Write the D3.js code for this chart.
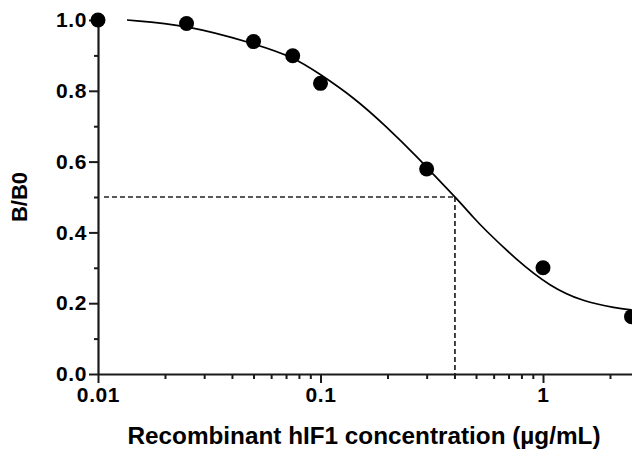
<!DOCTYPE html>
<html>
<head>
<meta charset="utf-8">
<script src="https://cdn.jsdelivr.net/npm/d3@7"></script>
<style>
  body { margin: 0; background: #fff; }
  svg { display: block; font-family: "Liberation Sans", Arial, Helvetica, sans-serif; font-weight: bold; }
</style>
</head>
<body>
<div id="chart"></div>
<script>
// measured points (B/B0 vs concentration)
const pointX = [0.01, 0.025, 0.05, 0.075, 0.1, 0.3, 1, 2.5];
const pointY = [1.0, 0.99, 0.939, 0.899, 0.821, 0.579, 0.300, 0.162];

// fitted curve
const curveX = [0.0135, 0.025, 0.05, 0.0755, 0.0995, 0.14, 0.198, 0.28, 0.32, 0.402, 0.495, 0.54, 0.76, 1.075, 1.52, 2.14, 2.5];
const curveY = [1.0, 0.986, 0.934, 0.896, 0.847, 0.783, 0.699, 0.605, 0.565, 0.501, 0.437, 0.412, 0.322, 0.247, 0.204, 0.186, 0.181];

// IC50 guide
const ic50 = 0.402;
const halfLevel = 0.5;

const xMajor = [0.01, 0.1, 1];
const xMajorLabels = ["0.01", "0.1", "1"];
const yMajor = [0, 0.2, 0.4, 0.6, 0.8, 1.0];
const yMinor = [0.1, 0.3, 0.5, 0.7, 0.9];

const width = 632, height = 450;
const plotLeft = 98, plotBottom = 374, plotTop = 20;
const decade = 222.5;

const svg = d3.select("#chart").append("svg")
    .attr("width", width)
    .attr("height", height);

const x = d3.scaleLog()
    .domain([0.01, 2.55])
    .range([plotLeft, plotLeft + decade * Math.log10(255)]);

const y = d3.scaleLinear()
    .domain([0, 1])
    .range([plotBottom, plotTop]);

// x axis: major + minor ticks
const xMinor = x.ticks().filter(v => !xMajor.some(m => Math.abs(m - v) < 1e-9));

svg.append("g")
    .attr("transform", `translate(0,${plotBottom})`)
    .call(d3.axisBottom(x).tickValues(xMinor).tickSize(5).tickFormat(""))
    .call(g => g.select(".domain").remove());

svg.append("g")
    .attr("transform", `translate(0,${plotBottom})`)
    .call(d3.axisBottom(x)
        .tickValues(xMajor)
        .tickSize(9)
        .tickSizeOuter(0)
        .tickPadding(4)
        .tickFormat((d, i) => xMajorLabels[i]));

// y axis
svg.append("g")
    .attr("transform", `translate(${plotLeft},0)`)
    .call(d3.axisLeft(y).tickValues(yMinor).tickSize(4).tickFormat(""))
    .call(g => g.select(".domain").remove());

svg.append("g")
    .attr("transform", `translate(${plotLeft},0)`)
    .call(d3.axisLeft(y)
        .tickValues(yMajor)
        .tickSize(9)
        .tickSizeOuter(0)
        .tickPadding(2)
        .tickFormat(d3.format(".1f")));

svg.selectAll(".domain").attr("stroke", "#1a1a1a").attr("stroke-width", 2.2);
svg.selectAll(".tick line").attr("stroke", "#1a1a1a").attr("stroke-width", 2);
svg.selectAll(".tick text")
    .attr("fill", "#000")
    .style("font-size", "21px")
    .style("font-weight", "bold")
    .style("letter-spacing", "0.6px")
    .style("font-family", "'Liberation Sans', Arial, sans-serif");

// dashed IC50 guides
const guide = svg.append("g")
    .attr("stroke", "#222")
    .attr("stroke-width", 1.7)
    .attr("stroke-dasharray", "5,3");

guide.append("line")
    .attr("x1", x(0.01) + 6).attr("y1", y(halfLevel))
    .attr("x2", x(ic50)).attr("y2", y(halfLevel));

guide.append("line")
    .attr("x1", x(ic50)).attr("y1", y(halfLevel))
    .attr("x2", x(ic50)).attr("y2", y(0));

// fitted curve
const curve = curveX.map((v, i) => [v, curveY[i]]);
svg.append("path")
    .datum(curve)
    .attr("fill", "none")
    .attr("stroke", "#000")
    .attr("stroke-width", 1.7)
    .attr("d", d3.line()
        .x(d => x(d[0]))
        .y(d => y(d[1]))
        .curve(d3.curveBasis));

// data points
const points = pointX.map((v, i) => [v, pointY[i]]);
svg.append("g")
    .selectAll("circle")
    .data(points)
    .enter().append("circle")
    .attr("cx", d => x(d[0]))
    .attr("cy", d => y(d[1]))
    .attr("r", 7.5)
    .attr("fill", "#000");

// axis titles
svg.append("text")
    .attr("x", 364)
    .attr("y", 444)
    .attr("text-anchor", "middle")
    .style("font-size", "24.3px")
    .attr("fill", "#000")
    .text("Recombinant hIF1 concentration (µg/mL)");

svg.append("text")
    .attr("transform", `translate(27,${(plotTop + plotBottom) / 2}) rotate(-90)`)
    .attr("text-anchor", "middle")
    .style("font-size", "22px")
    .attr("fill", "#000")
    .text("B/B0");
</script>
</body>
</html>
